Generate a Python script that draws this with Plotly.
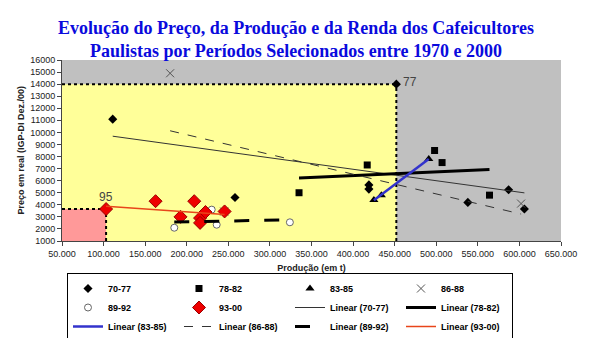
import numpy as np
import plotly.graph_objects as go

# ---- data (production in t, price in R$ IGP-DI Dez/00) ----
prod_70_77 = [111000, 258000, 419000, 419000, 452000, 538000, 587000, 606000]
price_70_77 = [11100, 4600, 5650, 5300, 14000, 4200, 5250, 3650]

prod_78_82 = [335000, 417000, 498000, 507000, 564000]
price_78_82 = [5000, 7300, 8500, 7500, 4800]

prod_83_85 = [425000, 434000, 491000]
price_83_85 = [4400, 4800, 7800]

prod_86_88 = [180000, 245000, 602000]
price_86_88 = [14900, 3440, 4100]

prod_89_92 = [185000, 230000, 236000, 324000]
price_89_92 = [2100, 3600, 2350, 2550]

prod_93_00 = [103000, 162500, 192500, 209000, 216000, 216000, 222500, 245500]
price_93_00 = [3650, 4300, 3000, 4300, 2900, 2500, 3400, 3450]

series_names = ["70-77", "78-82", "83-85", "86-88", "89-92", "93-00"]
x_ticks = [50000, 100000, 150000, 200000, 250000, 300000, 350000,
           400000, 450000, 500000, 550000, 600000, 650000]
y_ticks = list(range(1000, 16001, 1000))

title_text = ("<b>Evolução do Preço, da Produção e da Renda dos Cafeicultores<br>"
              "Paulistas por Períodos Selecionados entre 1970 e 2000</b>")
x_title = "<b>Produção (em t)</b>"
y_title = "<b>Preço em real (IGP-DI Dez./00)</b>"

# ---- styles ----
marker_styles = [
    dict(symbol="diamond", size=7, color="black"),
    dict(symbol="square", size=7, color="black"),
    dict(symbol="triangle-up", size=8, color="black"),
    dict(symbol="x-thin-open", size=8, color="#555555", line=dict(width=1, color="#555555")),
    dict(symbol="circle", size=7, color="white", line=dict(width=1, color="#666666")),
    dict(symbol="diamond", size=10, color="#EE0000", line=dict(width=1, color="#990000")),
]
line_styles = [
    dict(color="#333333", width=1),
    dict(color="black", width=3),
    dict(color="#3333CC", width=2.5),
    dict(color="#333333", width=1, dash="dash"),
    dict(color="black", width=3, dash="longdash"),
    dict(color="#E8451A", width=1.5),
]

xs = [prod_70_77, prod_78_82, prod_83_85, prod_86_88, prod_89_92, prod_93_00]
ys = [price_70_77, price_78_82, price_83_85, price_86_88, price_89_92, price_93_00]

fig = go.Figure()

for name, x, y, ms in zip(series_names, xs, ys, marker_styles):
    fig.add_trace(go.Scatter(x=x, y=y, mode="markers", name=name, marker=ms))

for name, x, y, ls in zip(series_names, xs, ys, line_styles):
    b, a = np.polyfit(np.array(x, float), np.array(y, float), 1)
    xl = [min(x), max(x)]
    yl = [a + b * v for v in xl]
    fig.add_trace(go.Scatter(x=xl, y=yl, mode="lines", name=f"Linear ({name})", line=ls))

# ---- income rectangles (1977 and 1995) ----
x_min, y_min = x_ticks[0], y_ticks[0]
p77x, p77y = prod_70_77[4], price_70_77[4]
p95x, p95y = prod_93_00[0], price_93_00[0]
dot = dict(color="black", width=2, dash="dot")
shapes = [
    dict(type="rect", xref="x", yref="y", x0=x_min, x1=p77x, y0=y_min, y1=p77y,
         fillcolor="#FFFF99", line=dict(width=0), layer="below"),
    dict(type="rect", xref="x", yref="y", x0=x_min, x1=p95x, y0=y_min, y1=p95y,
         fillcolor="#FF9999", line=dict(width=0), layer="below"),
    dict(type="line", xref="x", yref="y", x0=x_min, x1=p77x, y0=p77y, y1=p77y, line=dot, layer="below"),
    dict(type="line", xref="x", yref="y", x0=p77x, x1=p77x, y0=y_min, y1=p77y, line=dot, layer="below"),
    dict(type="line", xref="x", yref="y", x0=x_min, x1=p95x, y0=p95y, y1=p95y, line=dot, layer="below"),
    dict(type="line", xref="x", yref="y", x0=p95x, x1=p95x, y0=y_min, y1=p95y, line=dot, layer="below"),
]

annotations = [
    dict(x=p77x, y=p77y, xref="x", yref="y", text="77", showarrow=False,
         xanchor="left", yanchor="middle", xshift=5, yshift=2,
         font=dict(family="Liberation Sans, Arial", size=12, color="#444444")),
    dict(x=p95x, y=p95y, xref="x", yref="y", text="95", showarrow=False,
         xanchor="center", yanchor="bottom", yshift=3,
         font=dict(family="Liberation Sans, Arial", size=12, color="#444444")),
    dict(x=-0.084, y=0.5, xref="paper", yref="paper", text=y_title, showarrow=False,
         textangle=-90, xanchor="center", yanchor="middle",
         font=dict(family="Liberation Sans, Arial", size=9, color="#222222")),
]

fig.update_layout(
    width=592, height=338,
    margin=dict(l=62, r=31, t=60, b=97),
    paper_bgcolor="white",
    plot_bgcolor="#C0C0C0",
    separators=",.",
    title=dict(text=title_text, x=0.5, xanchor="center", xref="container",
               y=1 - 34 / 338, yanchor="top", yref="container",
               font=dict(family="Liberation Serif, Times New Roman", size=18, color="#0A0ADD")),
    font=dict(family="Liberation Sans, Arial", size=9, color="#222222"),
    shapes=shapes,
    annotations=annotations,
    showlegend=True,
    legend=dict(orientation="h", x=0.01, xanchor="left",
                y=1 - 273 / 338, yanchor="top", yref="container",
                bordercolor="black", borderwidth=1, bgcolor="white",
                entrywidth=66, entrywidthmode="pixels",
                font=dict(family="Liberation Sans, Arial", size=9, color="black", weight="bold"),
                tracegroupgap=0, itemsizing="trace"),
)
fig.update_xaxes(range=[x_ticks[0], x_ticks[-1]], tickvals=x_ticks, tickformat=",.0f",
                 showgrid=False, zeroline=False, showline=True, linecolor="#444444",
                 ticks="outside", ticklen=4, tickcolor="#444444", automargin=False,
                 title=dict(text=x_title, standoff=6, font=dict(size=9, color="#222222")))
fig.update_yaxes(range=[y_ticks[0], y_ticks[-1]], tickvals=y_ticks, tickformat="d",
                 showgrid=False, zeroline=False, showline=True, linecolor="#444444",
                 ticks="outside", ticklen=4, tickcolor="#444444", automargin=False)

fig.write_html("out.html")
